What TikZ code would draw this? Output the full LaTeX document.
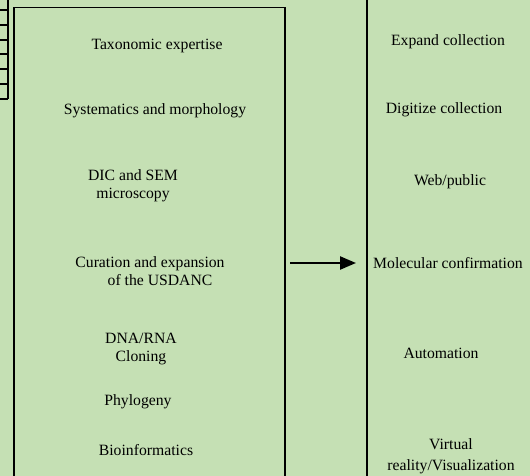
\documentclass[tikz,border=0pt]{standalone}
\usepackage{fontspec}
\setmainfont{Liberation Serif}
\usetikzlibrary{arrows.meta}
\definecolor{panelgreen}{HTML}{C5E0B4}
\begin{document}
\begin{tikzpicture}[x=1pt,y=-1pt,
  lbl/.style={align=center,inner sep=0pt,font=\fontsize{15.7}{18}\selectfont},
  frame/.style={draw=black,line width=1.2pt}]
\fill[panelgreen] (0,0) rectangle (530,476);
\useasboundingbox (0,0) rectangle (530,476);
% ladder at the top left
\draw[line width=2pt] (8,0) -- (8,99);
\foreach \y in {10,24.8,39.6,54.4,69.2,84,99}
  \draw[line width=2pt] (0,\y) -- (8,\y);
% frames
\draw[frame] (14,480) -- (14,7.5) -- (285,7.5) -- (285,480);
\draw[frame] (367,-4) -- (367,480);
% left column
\node[lbl] (tax) at (157,45.5) {Taxonomic expertise};
\node[lbl] (sys) at (155,111) {Systematics and morphology};
\node[lbl] (dic) at (133,186) {DIC and SEM\\microscopy};
\node[lbl] (cur) at (150,271) {Curation and expansion\\\hspace*{20pt}of the USDANC};
\node[lbl] (dna) at (141,349.5) {DNA/RNA\\Cloning};
\node[lbl] (phy) at (138,402) {Phylogeny};
\node[lbl] (bio) at (146,450) {Bioinformatics};
% right column
\node[lbl] (exp) at (448,41.5) {Expand collection};
\node[lbl] (dig) at (444,110) {Digitize collection};
\node[lbl] (web) at (450,182) {Web/public};
\node[lbl] (mol) at (448,263) {Molecular confirmation};
\node[lbl] (aut) at (441,353) {Automation};
\node[lbl,font=\fontsize{15.7}{21.5}\selectfont] (vir) at (451,456) {Virtual\\reality/Visualization};
% arrow between the frames
\coordinate (arrfrom) at (290,263);
\coordinate (arrto) at (356,263);
\draw[line width=2.3pt,-{Triangle[length=16pt,width=13pt]}] (arrfrom) -- (arrto);
\end{tikzpicture}
\end{document}
